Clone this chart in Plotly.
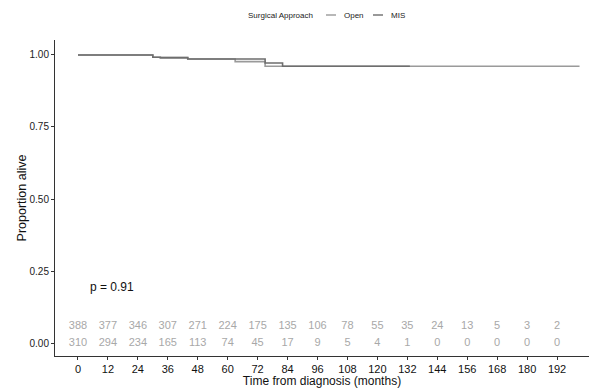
import plotly.graph_objects as go

# Kaplan-Meier step curves (months, survival proportion)
open_t = [0, 30, 44, 63, 75, 201]
open_s = [1.0, 0.992, 0.986, 0.977, 0.961, 0.961]
mis_t = [0, 30, 33, 44, 75, 82, 133]
mis_s = [1.0, 0.992, 0.990, 0.986, 0.972, 0.961, 0.961]

risk_times = [0, 12, 24, 36, 48, 60, 72, 84, 96, 108, 120, 132, 144, 156, 168, 180, 192]
open_risk = [388, 377, 346, 307, 271, 224, 175, 135, 106, 78, 55, 35, 24, 13, 5, 3, 2]
mis_risk = [310, 294, 234, 165, 113, 74, 45, 17, 9, 5, 4, 1, 0, 0, 0, 0, 0]

y_ticks = [0.0, 0.25, 0.5, 0.75, 1.0]
y_tick_labels = ["0.00", "0.25", "0.50", "0.75", "1.00"]

open_color = "#9a9a9a"
mis_color = "#6e6e6e"
FONT = "Liberation Sans"

W, H = 589, 388
ML, MR, MT, MB = 55, 0, 40, 32
PW, PH = W - ML - MR, H - MT - MB


def px_x(px):
    return (px - ML) / PW


def px_y(py):
    return 1 - (py - MT) / PH


fig = go.Figure()
fig.add_trace(go.Scatter(x=open_t, y=open_s, mode="lines", name="Open", showlegend=False,
                         line=dict(color=open_color, width=1.6, shape="hv")))
fig.add_trace(go.Scatter(x=mis_t, y=mis_s, mode="lines", name="MIS", showlegend=False,
                         line=dict(color=mis_color, width=1.6, shape="hv")))

fig.add_trace(go.Scatter(x=risk_times, y=[0.06] * len(risk_times), mode="text",
                         text=[str(v) for v in open_risk], showlegend=False,
                         textfont=dict(color="#a8a8a8", size=11, family=FONT)))
fig.add_trace(go.Scatter(x=risk_times, y=[0.0] * len(risk_times), mode="text",
                         text=[str(v) for v in mis_risk], showlegend=False,
                         textfont=dict(color="#a8a8a8", size=11, family=FONT)))

fig.add_annotation(x=4, y=0.194, xanchor="left", text="p = 0.91", showarrow=False,
                   font=dict(size=12, color="#111111", family=FONT))

# Legend drawn at the top, ggplot style
ly = px_y(15)
legend_font = dict(size=8, color="#222222", family=FONT)
fig.add_annotation(xref="paper", yref="paper", x=px_x(246), y=ly, xanchor="left",
                   yanchor="middle", text="Surgical Approach", showarrow=False, font=legend_font)
fig.add_shape(type="line", xref="paper", yref="paper", x0=px_x(326), x1=px_x(336),
              y0=ly, y1=ly, line=dict(color=open_color, width=1.4))
fig.add_annotation(xref="paper", yref="paper", x=px_x(342), y=ly, xanchor="left",
                   yanchor="middle", text="Open", showarrow=False, font=legend_font)
fig.add_shape(type="line", xref="paper", yref="paper", x0=px_x(373), x1=px_x(383),
              y0=ly, y1=ly, line=dict(color=mis_color, width=1.4))
fig.add_annotation(xref="paper", yref="paper", x=px_x(389), y=ly, xanchor="left",
                   yanchor="middle", text="MIS", showarrow=False, font=legend_font)

fig.update_layout(
    width=W, height=H,
    margin=dict(l=ML, r=MR, t=MT, b=MB, autoexpand=False),
    paper_bgcolor="white", plot_bgcolor="white",
    font=dict(family=FONT, color="#222222"),
    showlegend=False,
    xaxis=dict(range=[-9.2, 204.8], tickmode="array", tickvals=risk_times,
               automargin=False,
               showgrid=False, zeroline=False, showline=True, linecolor="#333333",
               linewidth=1, ticks="outside", ticklen=3, tickcolor="#333333",
               tickfont=dict(size=11, color="#111111"),
               title=dict(text="Time from diagnosis (months)", font=dict(size=12, color="#111111"),
                          standoff=0)),
    yaxis=dict(range=[-0.045, 1.052], tickmode="array", tickvals=y_ticks,
               ticktext=y_tick_labels, automargin=False,
               showgrid=False, zeroline=False, showline=True, linecolor="#333333",
               linewidth=1, ticks="outside", ticklen=3, tickcolor="#333333",
               tickfont=dict(size=10, color="#222222"),
               title=dict(text="Proportion alive", font=dict(size=12.5, color="#111111"),
                          standoff=0)),
)

fig.write_html("out.html", config={"displayModeBar": False},
               post_script="document.body.style.margin='0px';document.body.style.overflow='hidden';")
